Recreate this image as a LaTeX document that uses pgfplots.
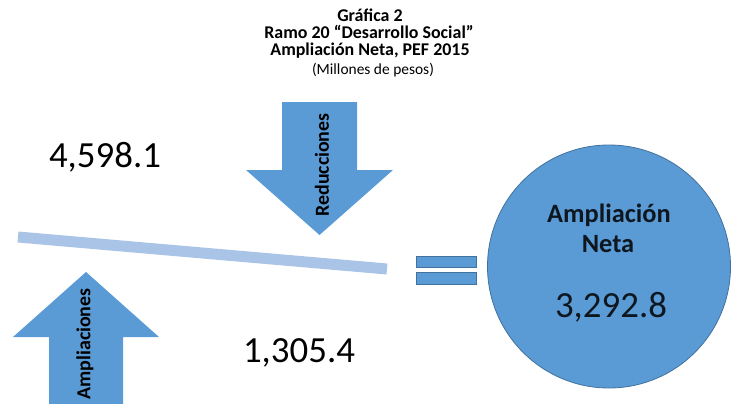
\documentclass[border=0pt]{standalone}
\usepackage{pgfplots}
\pgfplotsset{compat=1.18}
\usepackage{fontspec}
\setmainfont{Carlito}

\definecolor{azul}{HTML}{5B9BD5}
\definecolor{borde}{HTML}{41719C}
\definecolor{barra}{HTML}{A9C4E6}

\newcommand{\fs}[1]{\fontsize{#1}{#1}\selectfont}

\begin{document}
\begin{tikzpicture}
\begin{axis}[
    width=732bp, height=404bp, scale only axis,
    xmin=0, xmax=732, ymin=0, ymax=404,
    y dir=reverse,
    hide axis,
    clip=true,
    % los textos del circulo van encima de la marca
    after end axis/.code={
        \node[anchor=base, font=\fs{26.5}\bfseries, text=black!85!azul] at (axis cs:609,222) {Ampliación};
        \node[anchor=base, font=\fs{26.5}\bfseries, text=black!85!azul] at (axis cs:608,252) {Neta};
        \node[anchor=base, font=\fs{37}, text=black!85!azul] at (axis cs:611,317) {3,292.8};
    }
]
% marco invisible
\addplot[draw=none] coordinates {(0,0) (732,404)};

% barra inclinada
\addplot[color=barra, line width=11bp] coordinates {(18,237) (387,269)};

% flecha hacia abajo (Reducciones)
\addplot[fill=azul, draw=none] coordinates {
    (282,102) (357,102) (357,170) (393,170) (319.5,235) (246,170) (282,170)
} -- cycle;

% flecha hacia arriba (Ampliaciones)
\addplot[fill=azul, draw=none] coordinates {
    (86,272) (159,337) (123,337) (123,404) (49,404) (49,337) (13,337)
} -- cycle;

% signo igual
\addplot[fill=azul, draw=borde, line width=0.6bp] coordinates {
    (416,256) (476,256) (476,267) (416,267)
} -- cycle;
\addplot[fill=azul, draw=borde, line width=0.6bp] coordinates {
    (416,272) (476,272) (476,284) (416,284)
} -- cycle;

% circulo
\addplot[only marks, mark=*, mark size=121.5bp,
    mark options={fill=azul, draw=borde, line width=0.8bp}]
    coordinates {(609,266.5)};

% titulo
\node[anchor=base, font=\fs{18}\bfseries] at (axis cs:370,21.5) {Gráfica 2};
\node[anchor=base, font=\fs{18}\bfseries] at (axis cs:369,38.7) {Ramo 20 “Desarrollo Social”};
\node[anchor=base, font=\fs{18}\bfseries] at (axis cs:370,55.5) {Ampliación Neta, PEF 2015};
\node[anchor=base, font=\fs{15.5}] at (axis cs:373,74) {(Millones de pesos)};

% cifras
\node[anchor=base, font=\fs{37}] at (axis cs:105,167) {4,598.1};
\node[anchor=base, font=\fs{37}] at (axis cs:299,362) {1,305.4};

% etiquetas de las flechas
\node[rotate=90, font=\fs{20}\bfseries] at (axis cs:322,165) {Reducciones};
\node[rotate=90, font=\fs{20}\bfseries] at (axis cs:85,344) {Ampliaciones};
\end{axis}
\end{tikzpicture}
\end{document}
